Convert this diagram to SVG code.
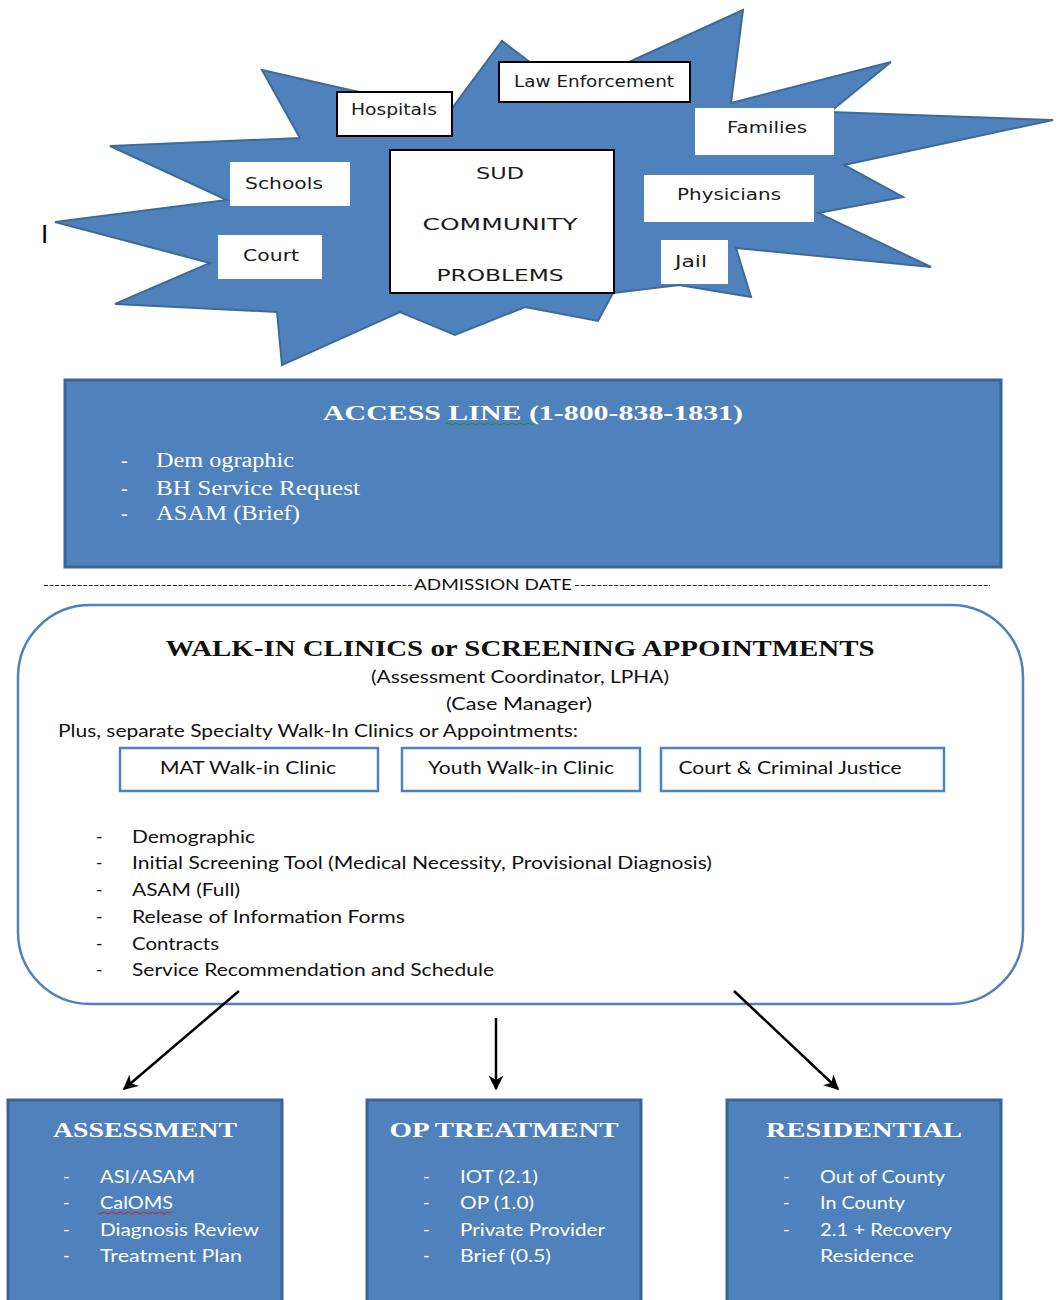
<svg xmlns="http://www.w3.org/2000/svg" width="1062" height="1300" viewBox="0 0 1062 1300">
<defs>
<style>
.sans{font-family:Lato,"Open Sans","DejaVu Sans",sans-serif;}
.serif{font-family:"Liberation Serif","Times New Roman",serif;}
.lbl{font-family:"DejaVu Sans",Verdana,sans-serif;font-size:16px;fill:#1a1a1a;text-anchor:middle;}
.wbox{fill:#ffffff;stroke:none;}
.bbox{fill:#ffffff;stroke:#000000;stroke-width:2;}
.blue{fill:#4F81BD;stroke:#3B6594;stroke-width:3;}
.btitle{font-family:"Liberation Serif","Times New Roman",serif;font-weight:bold;fill:#ffffff;text-anchor:middle;}
.wtxt{font-family:Lato,"Open Sans",sans-serif;font-size:18px;fill:#ffffff;}
.ktxt{font-family:Lato,"Open Sans",sans-serif;font-size:17.5px;fill:#111111;}
.sub{fill:#ffffff;stroke:#4F81BD;stroke-width:2.5;}
.conn{stroke:#000000;stroke-width:2.5;fill:none;marker-end:url(#ah);}
.dash{stroke:#222222;stroke-width:1.2;stroke-dasharray:4 1.6;fill:none;}
</style>
<marker id="ah" viewBox="0 0 10 10" refX="9" refY="5" markerWidth="6" markerHeight="6" orient="auto" markerUnits="strokeWidth">
<path d="M0,0 L10,5 L0,10 L3,5 z" fill="#000000"/>
</marker>
</defs>
<rect width="1062" height="1300" fill="#ffffff"/>

<g id="starburst">
<polygon points="55,222 227,200 110,146 300,138 262,70 350,90 400,100 447,115 502,41 560,85 629,62 743,10 731,103 891,62 830,112 1053,120 844,165 903,197 818,213 931,267 736,248 751,297 679,285 613,293 598,321 525,307 455,335 400,312 282,365 277,312 115,304 210,263" fill="#4F81BD" stroke="#3D6B98" stroke-width="2" stroke-linejoin="miter"/>
</g>

<text x="41" y="243" font-family="Liberation Sans,Arial,sans-serif" font-size="26" fill="#000000">I</text>

<g id="node-hospitals">
<rect class="bbox" x="337" y="92" width="115" height="44"/>
<text class="lbl" x="394" y="115" textLength="86" lengthAdjust="spacingAndGlyphs">Hospitals</text>
</g>
<g id="node-law">
<rect class="bbox" x="499" y="62" width="191" height="40"/>
<text class="lbl" x="594" y="87" textLength="160" lengthAdjust="spacingAndGlyphs">Law Enforcement</text>
</g>
<g id="node-families">
<rect class="wbox" x="695" y="108" width="139" height="47"/>
<text class="lbl" x="767" y="133" textLength="80" lengthAdjust="spacingAndGlyphs">Families</text>
</g>
<g id="node-schools">
<rect class="wbox" x="230" y="162" width="120" height="44"/>
<text class="lbl" x="284" y="189" textLength="78" lengthAdjust="spacingAndGlyphs">Schools</text>
</g>
<g id="node-physicians">
<rect class="wbox" x="644" y="175" width="170" height="47"/>
<text class="lbl" x="729" y="200" textLength="104" lengthAdjust="spacingAndGlyphs">Physicians</text>
</g>
<g id="node-court">
<rect class="wbox" x="218" y="235" width="104" height="44"/>
<text class="lbl" x="271" y="261" textLength="56" lengthAdjust="spacingAndGlyphs">Court</text>
</g>
<g id="node-jail">
<rect class="wbox" x="661" y="240" width="67" height="44"/>
<text class="lbl" x="691" y="267" textLength="32" lengthAdjust="spacingAndGlyphs">Jail</text>
</g>
<g id="node-sud">
<rect class="bbox" x="390" y="150" width="224" height="143"/>
<text class="lbl" x="500" y="179" font-size="19" textLength="48" lengthAdjust="spacingAndGlyphs">SUD</text>
<text class="lbl" x="500" y="230" font-size="19" textLength="155" lengthAdjust="spacingAndGlyphs">COMMUNITY</text>
<text class="lbl" x="500" y="281" font-size="19" textLength="127" lengthAdjust="spacingAndGlyphs">PROBLEMS</text>
</g>

<g id="node-access">
<rect class="blue" x="65" y="380" width="936" height="187"/>
<text class="btitle" x="533" y="420" font-size="22" textLength="420" lengthAdjust="spacingAndGlyphs">ACCESS LINE  (1-800-838-1831)</text>
<path d="M446,424 q2,-2 4,0 t4,0 t4,0 t4,0 t4,0 t4,0 t4,0 t4,0 t4,0 t4,0 t4,0 t4,0 t4,0 t4,0 t4,0 t4,0 t4,0 t4,0 t4,0 t4,0 t4,0 t4,0" fill="none" stroke="#2e8b2e" stroke-width="1"/>
<g font-family="Liberation Serif,Times New Roman,serif" font-size="20" fill="#ffffff">
<text x="121" y="467">-</text><text x="156" y="467" textLength="138" lengthAdjust="spacingAndGlyphs">Dem ographic</text>
<text x="121" y="495">-</text><text x="156" y="495" textLength="204" lengthAdjust="spacingAndGlyphs">BH Service Request</text>
<text x="121" y="520">-</text><text x="156" y="520" textLength="144" lengthAdjust="spacingAndGlyphs">ASAM (Brief)</text>
</g>
</g>

<g id="admission-date">
<line class="dash" x1="44" y1="585.5" x2="412" y2="585.5"/>
<text x="414" y="590" font-family="Lato,Open Sans,sans-serif" font-size="15" fill="#111111" textLength="158" lengthAdjust="spacingAndGlyphs">ADMISSION DATE</text>
<line class="dash" x1="575" y1="585.5" x2="990" y2="585.5"/>
</g>

<g id="node-walkin">
<rect x="18" y="605" width="1005" height="399" rx="72" ry="72" fill="#ffffff" stroke="#4F81BD" stroke-width="2.5"/>
<text class="serif" x="520" y="656" font-size="24" font-weight="bold" fill="#111111" text-anchor="middle" textLength="709" lengthAdjust="spacingAndGlyphs">WALK-IN CLINICS or SCREENING APPOINTMENTS</text>
<text class="ktxt" x="520" y="683" text-anchor="middle" textLength="298" lengthAdjust="spacingAndGlyphs">(Assessment Coordinator, LPHA)</text>
<text class="ktxt" x="519" y="710" text-anchor="middle" textLength="146" lengthAdjust="spacingAndGlyphs">(Case Manager)</text>
<text class="ktxt" x="58" y="737" textLength="520" lengthAdjust="spacingAndGlyphs">Plus, separate Specialty Walk-In Clinics or Appointments:</text>
<g id="node-mat"><rect class="sub" x="120" y="748" width="258" height="43"/>
<text class="ktxt" x="248" y="774" text-anchor="middle" textLength="176" lengthAdjust="spacingAndGlyphs">MAT Walk-in Clinic</text></g>
<g id="node-youth"><rect class="sub" x="402" y="748" width="238" height="43"/>
<text class="ktxt" x="521" y="774" text-anchor="middle" textLength="186" lengthAdjust="spacingAndGlyphs">Youth Walk-in Clinic</text></g>
<g id="node-courtcj"><rect class="sub" x="661" y="748" width="283" height="43"/>
<text class="ktxt" x="790" y="774" text-anchor="middle" textLength="223" lengthAdjust="spacingAndGlyphs">Court &amp; Criminal Justice</text></g>
<text class="ktxt" x="96" y="843">-</text><text class="ktxt" x="132" y="843" textLength="123" lengthAdjust="spacingAndGlyphs">Demographic</text>
<text class="ktxt" x="96" y="869">-</text><text class="ktxt" x="132" y="869" textLength="580" lengthAdjust="spacingAndGlyphs">Initial Screening Tool (Medical Necessity, Provisional Diagnosis)</text>
<text class="ktxt" x="96" y="896">-</text><text class="ktxt" x="132" y="896" textLength="108" lengthAdjust="spacingAndGlyphs">ASAM (Full)</text>
<text class="ktxt" x="96" y="923">-</text><text class="ktxt" x="132" y="923" textLength="273" lengthAdjust="spacingAndGlyphs">Release of Information Forms</text>
<text class="ktxt" x="96" y="950">-</text><text class="ktxt" x="132" y="950" textLength="87" lengthAdjust="spacingAndGlyphs">Contracts</text>
<text class="ktxt" x="96" y="976">-</text><text class="ktxt" x="132" y="976" textLength="362" lengthAdjust="spacingAndGlyphs">Service Recommendation and Schedule</text>
</g>

<g id="connectors">
<line class="conn" x1="239" y1="991" x2="124" y2="1089"/>
<line class="conn" x1="496" y1="1018" x2="496" y2="1089"/>
<line class="conn" x1="734" y1="991" x2="838" y2="1089"/>
</g>

<g id="node-assessment">
<rect class="blue" x="8" y="1100" width="274" height="215"/>
<text class="btitle" x="145" y="1137" font-size="22" textLength="184" lengthAdjust="spacingAndGlyphs">ASSESSMENT</text>
<text class="wtxt" x="63" y="1183">-</text><text class="wtxt" x="100" y="1183" textLength="95" lengthAdjust="spacingAndGlyphs">ASI/ASAM</text>
<text class="wtxt" x="63" y="1209">-</text><text class="wtxt" x="100" y="1209" textLength="73" lengthAdjust="spacingAndGlyphs">CalOMS</text>
<path d="M98,1213 q2,2 4,0 t4,0 t4,0 t4,0 t4,0 t4,0 t4,0 t4,0 t4,0 t4,0 t4,0 t4,0 t4,0 t4,0 t4,0 t4,0 t4,0 t4,0" fill="none" stroke="#d02020" stroke-width="1"/>
<text class="wtxt" x="63" y="1236">-</text><text class="wtxt" x="100" y="1236" textLength="159" lengthAdjust="spacingAndGlyphs">Diagnosis Review</text>
<text class="wtxt" x="63" y="1262">-</text><text class="wtxt" x="100" y="1262" textLength="142" lengthAdjust="spacingAndGlyphs">Treatment Plan</text>
</g>

<g id="node-op">
<rect class="blue" x="367" y="1100" width="274" height="215"/>
<text class="btitle" x="504" y="1137" font-size="22" textLength="229" lengthAdjust="spacingAndGlyphs">OP TREATMENT</text>
<text class="wtxt" x="423" y="1183">-</text><text class="wtxt" x="460" y="1183" textLength="78" lengthAdjust="spacingAndGlyphs">IOT (2.1)</text>
<text class="wtxt" x="423" y="1209">-</text><text class="wtxt" x="460" y="1209" textLength="74" lengthAdjust="spacingAndGlyphs">OP (1.0)</text>
<text class="wtxt" x="423" y="1236">-</text><text class="wtxt" x="460" y="1236" textLength="145" lengthAdjust="spacingAndGlyphs">Private Provider</text>
<text class="wtxt" x="423" y="1262">-</text><text class="wtxt" x="460" y="1262" textLength="91" lengthAdjust="spacingAndGlyphs">Brief (0.5)</text>
</g>

<g id="node-residential">
<rect class="blue" x="727" y="1100" width="274" height="215"/>
<text class="btitle" x="864" y="1137" font-size="22" textLength="196" lengthAdjust="spacingAndGlyphs">RESIDENTIAL</text>
<text class="wtxt" x="783" y="1183">-</text><text class="wtxt" x="820" y="1183" textLength="125" lengthAdjust="spacingAndGlyphs">Out of County</text>
<text class="wtxt" x="783" y="1209">-</text><text class="wtxt" x="820" y="1209" textLength="85" lengthAdjust="spacingAndGlyphs">In County</text>
<text class="wtxt" x="783" y="1236">-</text><text class="wtxt" x="820" y="1236" textLength="132" lengthAdjust="spacingAndGlyphs">2.1 + Recovery</text>
<text class="wtxt" x="820" y="1262" textLength="94" lengthAdjust="spacingAndGlyphs">Residence</text>
</g>
</svg>
